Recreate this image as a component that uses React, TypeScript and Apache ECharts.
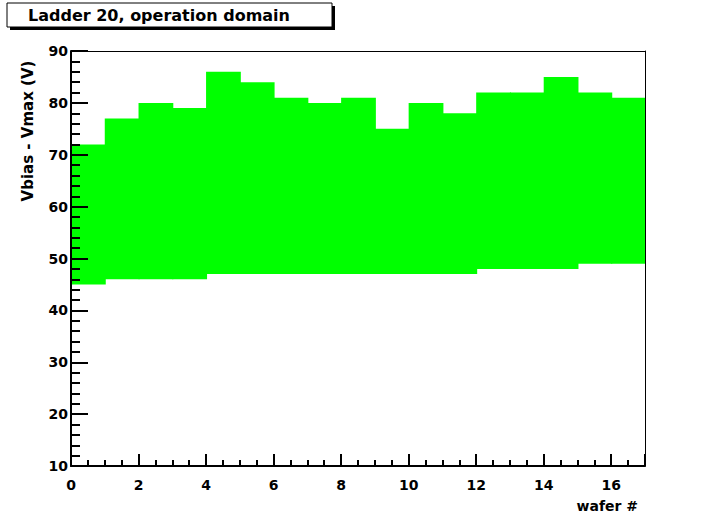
import React, { useEffect, useRef } from "react";
import * as echarts from "echarts";

const wafers = [0, 1, 2, 3, 4, 5, 6, 7, 8, 9, 10, 11, 12, 13, 14, 15, 16];
const lowerV = [45, 46, 46, 46, 47, 47, 47, 47, 47, 47, 47, 47, 48, 48, 48, 49, 49];
const upperV = [72, 77, 80, 79, 86, 84, 81, 80, 81, 75, 80, 78, 82, 82, 85, 82, 81];
const titleText = "Ladder 20, operation domain";
const yTitle = "Vbias - Vmax (V)";
const xTitle = "wafer #";

const FONT = "'DejaVu Sans', 'Liberation Sans', Arial, sans-serif";

export default function App() {
  const ref = useRef<HTMLDivElement>(null);
  useEffect(() => {
    if (!ref.current) return;
    const chart = echarts.init(ref.current, undefined, { renderer: "svg" });
    const data = wafers.map((w, i) => [w, lowerV[i], upperV[i]]);
    const axisLabel = { color: "#000", fontFamily: FONT, fontWeight: "bold", fontSize: 14 };
    const thick = { lineStyle: { color: "#000", width: 2 } };
    const thin = { lineStyle: { color: "#000", width: 1 } };
    chart.setOption({
      animation: false,
      backgroundColor: "#fff",
      grid: { left: 71, right: 72, top: 51, bottom: 53, containLabel: false },
      xAxis: [
        {
          type: "value",
          min: 0,
          max: 17,
          interval: 2,
          z: 5,
          axisLine: { show: true, onZero: false, ...thick },
          axisTick: { show: true, inside: true, length: 12, ...thick },
          minorTick: { show: true, splitNumber: 4, length: 6, ...thick },
          splitLine: { show: false },
          axisLabel: { ...axisLabel, margin: 12, showMaxLabel: false },
        },
        {
          type: "value",
          position: "top",
          min: 0,
          max: 17,
          z: 5,
          axisLine: { show: true, onZero: false, ...thin },
          axisTick: { show: false },
          axisLabel: { show: false },
          splitLine: { show: false },
        },
      ],
      yAxis: [
        {
          type: "value",
          min: 10,
          max: 90,
          interval: 10,
          z: 5,
          axisLine: { show: true, onZero: false, ...thick },
          axisTick: { show: true, inside: true, length: 17, ...thick },
          minorTick: { show: true, splitNumber: 5, length: 9, ...thick },
          splitLine: { show: false },
          axisLabel: { ...axisLabel, margin: 3 },
        },
        {
          type: "value",
          position: "right",
          min: 10,
          max: 90,
          z: 5,
          axisLine: { show: true, onZero: false, ...thin },
          axisTick: { show: false },
          axisLabel: { show: false },
          splitLine: { show: false },
        },
      ],
      series: [
        {
          type: "custom",
          z: 1,
          xAxisIndex: 0,
          yAxisIndex: 0,
          data,
          encode: { x: 0, y: [1, 2] },
          renderItem: (params: any, api: any) => {
            const i = api.value(0);
            const lo = api.value(1);
            const hi = api.value(2);
            const p1 = api.coord([i, hi]);
            const p2 = api.coord([i + 1, lo]);
            const last = i === wafers[wafers.length - 1];
            return {
              type: "rect",
              shape: { x: p1[0], y: p1[1], width: p2[0] - p1[0] + (last ? 0 : 1), height: p2[1] - p1[1] },
              style: { fill: "#00ff00", stroke: null },
            };
          },
        },
      ],
      graphic: [
        { type: "rect", shape: { x: 10, y: 6, width: 325, height: 24 }, style: { fill: "#000" }, z: 10 },
        { type: "rect", shape: { x: 7, y: 3, width: 325, height: 24 }, style: { fill: "#fff", stroke: "#000", lineWidth: 1 }, z: 11 },
        {
          type: "text",
          x: 28,
          y: 15,
          z: 12,
          style: { text: titleText, fontFamily: FONT, fontWeight: "bold", fontSize: 16, fill: "#000", verticalAlign: "middle", align: "left" },
        },
        {
          type: "text",
          x: 28,
          y: 131,
          rotation: Math.PI / 2,
          z: 12,
          style: { text: yTitle, fontFamily: FONT, fontWeight: "bold", fontSize: 15, fill: "#000", verticalAlign: "middle", align: "center" },
        },
        {
          type: "text",
          x: 638,
          y: 506,
          z: 12,
          style: { text: xTitle, fontFamily: FONT, fontWeight: "bold", fontSize: 14, fill: "#000", verticalAlign: "middle", align: "right" },
        },
      ],
    });
    return () => chart.dispose();
  }, []);
  return <div ref={ref} style={{ position: "fixed", left: 0, top: 0, width: 717, height: 519 }} />;
}
